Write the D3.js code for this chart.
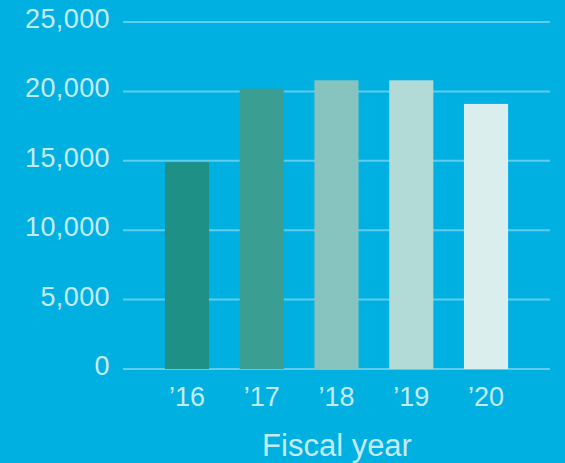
<!DOCTYPE html>
<html>
<head>
<meta charset="utf-8">
<script src="https://cdn.jsdelivr.net/npm/d3@7/dist/d3.min.js"></script>
<style>
  html, body { margin: 0; padding: 0; background: #00b0e1; }
  svg { display: block; }
  text { font-family: "Liberation Sans", Arial, sans-serif; fill: #c4ebf9; }
</style>
</head>
<body>
<div class="chart"></div>
<script>
// data
const years = ["’16", "’17", "’18", "’19", "’20"]
const values = [14900, 20200, 20800, 20800, 19100]
const barColors = ["#1f9085", "#3a9e93", "#88c4bf", "#b2dbd8", "#daeeed"]
const yTicks = [0, 5000, 10000, 15000, 20000, 25000]

const width = 565
const height = 463

const svg = d3.select(".chart")
  .append("svg")
  .attr("width", width)
  .attr("height", height)

// scales
const y = d3.scaleLinear()
  .domain([0, 25000])
  .range([369, 22])

const x = d3.scaleBand()
  .domain(years)
  .range([149.6, 523.4])
  .paddingInner(0.41)
  .paddingOuter(0.205)

// gridlines
svg.selectAll("line.grid")
  .data(yTicks)
  .enter()
  .append("line")
    .attr("class", "grid")
    .attr("x1", 123)
    .attr("x2", 550)
    .attr("y1", d => y(d))
    .attr("y2", d => y(d))
    .style("stroke", "#5fcbed")
    .style("stroke-width", 2)

// y labels
svg.selectAll("text.ylab")
  .data(yTicks)
  .enter()
  .append("text")
    .attr("class", "ylab")
    .attr("x", 110)
    .attr("y", d => y(d) + 6)
    .attr("text-anchor", "end")
    .style("font-size", "27px")
    .style("letter-spacing", "0.4px")
    .text(d => d3.format(",")(d))

// bars
svg.selectAll("rect")
  .data(values)
  .enter()
  .append("rect")
    .attr("x", (d, i) => x(years[i]))
    .attr("width", x.bandwidth())
    .attr("y", d => y(d))
    .attr("height", d => y(0) - y(d))
    .style("fill", (d, i) => barColors[i])

// x labels
svg.selectAll("text.xlab")
  .data(years)
  .enter()
  .append("text")
    .attr("class", "xlab")
    .attr("x", d => x(d) + x.bandwidth() / 2)
    .attr("y", 406)
    .attr("text-anchor", "middle")
    .style("font-size", "27px")
    .text(d => d)

svg.append("text")
  .attr("x", 337)
  .attr("y", 456)
  .attr("text-anchor", "middle")
  .style("font-size", "31px")
  .text("Fiscal year")
</script>
</body>
</html>
